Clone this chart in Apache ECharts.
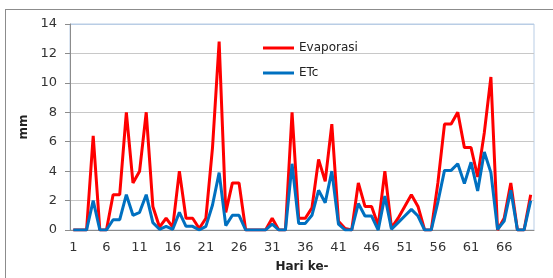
<!DOCTYPE html>
<html>
<head>
<meta charset="utf-8">
<title>Evaporasi dan ETc</title>
<script src="https://cdn.jsdelivr.net/npm/echarts@6/dist/echarts.min.js"></script>
<style>
  html, body { margin: 0; padding: 0; background: #fff; }
  #chart1 { width: 553px; height: 278px; }
</style>
</head>
<body>
<div id="chart1"></div>
<script type="text/javascript">
    // hari ke-1 .. ke-70
    var hari = [];
    for (var i = 1; i <= 70; i++) hari.push(String(i));

    var evaporasi = [
        0, 0, 0, 6.4, 0, 0, 2.4, 2.4, 8.0, 3.2,
        4.0, 8.0, 1.6, 0.2, 0.8, 0.2, 4.0, 0.8, 0.8, 0.1,
        0.8, 5.6, 12.8, 1.2, 3.2, 3.2, 0, 0, 0, 0,
        0.8, 0, 0, 8.0, 0.8, 0.8, 1.5, 4.8, 3.3, 7.2,
        0.6, 0.1, 0, 3.2, 1.6, 1.6, 0.3, 4.0, 0.15, 0.8,
        1.6, 2.4, 1.6, 0, 0, 3.2, 7.2, 7.2, 8.0, 5.6,
        5.6, 3.6, 6.6, 10.4, 0, 0.8, 3.2, 0, 0, 2.4
    ];
    var etc = [
        0, 0, 0, 2.0, 0, 0, 0.7, 0.7, 2.4, 1.0,
        1.2, 2.4, 0.5, 0.05, 0.25, 0.05, 1.2, 0.25, 0.25, 0,
        0.25, 1.7, 3.9, 0.3, 1.0, 1.0, 0, 0, 0, 0,
        0.4, 0, 0, 4.5, 0.45, 0.45, 1.0, 2.7, 1.85, 4.0,
        0.4, 0, 0, 1.8, 0.95, 0.95, 0, 2.3, 0.05, 0.5,
        0.95, 1.4, 0.95, 0, 0, 1.9, 4.05, 4.05, 4.5, 3.15,
        4.6, 2.65, 5.3, 3.9, 0.05, 0.6, 2.7, 0, 0, 2.0
    ];

    var myChart = echarts.init(document.getElementById('chart1'));

    var option = {
        animation: false,
        textStyle: { fontFamily: 'DejaVu Sans' },
        graphic: [
            { type: 'line', shape: { x1: 5, y1: 9.5, x2: 553, y2: 9.5 }, style: { stroke: '#8c8c8c', lineWidth: 1 } },
            { type: 'line', shape: { x1: 5.5, y1: 9, x2: 5.5, y2: 278 }, style: { stroke: '#8c8c8c', lineWidth: 1 } }
        ],
        grid: {
            left: 70, right: 19, top: 24, bottom: 44,
            show: true, borderColor: '#b9cde5', borderWidth: 1
        },
        legend: {
            orient: 'vertical',
            left: 258, top: 37,
            itemWidth: 31, itemHeight: 3, itemGap: 13,
            icon: 'rect',
            textStyle: { fontSize: 12, color: '#222', fontFamily: 'DejaVu Sans' },
            data: ['Evaporasi', 'ETc']
        },
        xAxis: {
            type: 'category',
            data: hari,
            boundaryGap: true,
            name: 'Hari ke-',
            nameLocation: 'middle',
            nameGap: 31,
            nameTextStyle: { fontWeight: 'bold', fontSize: 12, color: '#222' },
            axisLine: { lineStyle: { color: '#8c8c8c' } },
            axisTick: { interval: 0, length: 4, lineStyle: { color: '#8c8c8c' } },
            axisLabel: { interval: 4, fontSize: 13, color: '#333', margin: 11 }
        },
        yAxis: {
            type: 'value',
            min: 0, max: 14, interval: 2,
            name: 'mm',
            nameLocation: 'middle',
            nameGap: 40,
            nameTextStyle: { fontWeight: 'bold', fontSize: 12, color: '#222' },
            axisLine: { show: true, lineStyle: { color: '#8c8c8c' } },
            axisTick: { show: true, length: 5, lineStyle: { color: '#8c8c8c' } },
            axisLabel: { fontSize: 13, color: '#333', margin: 13 },
            splitLine: { lineStyle: { color: ['#c8c8c8', '#c8c8c8', '#c8c8c8', '#c8c8c8', '#c8c8c8', '#c8c8c8', '#c8c8c8', '#b9cde5'] } }
        },
        series: [
            {
                name: 'Evaporasi', type: 'line', data: evaporasi,
                symbol: 'none', color: '#ff0000',
                lineStyle: { width: 3, color: '#ff0000' }
            },
            {
                name: 'ETc', type: 'line', data: etc,
                symbol: 'none', color: '#0070c0',
                lineStyle: { width: 3, color: '#0070c0' }
            }
        ]
    };

    myChart.setOption(option);
</script>
</body>
</html>
